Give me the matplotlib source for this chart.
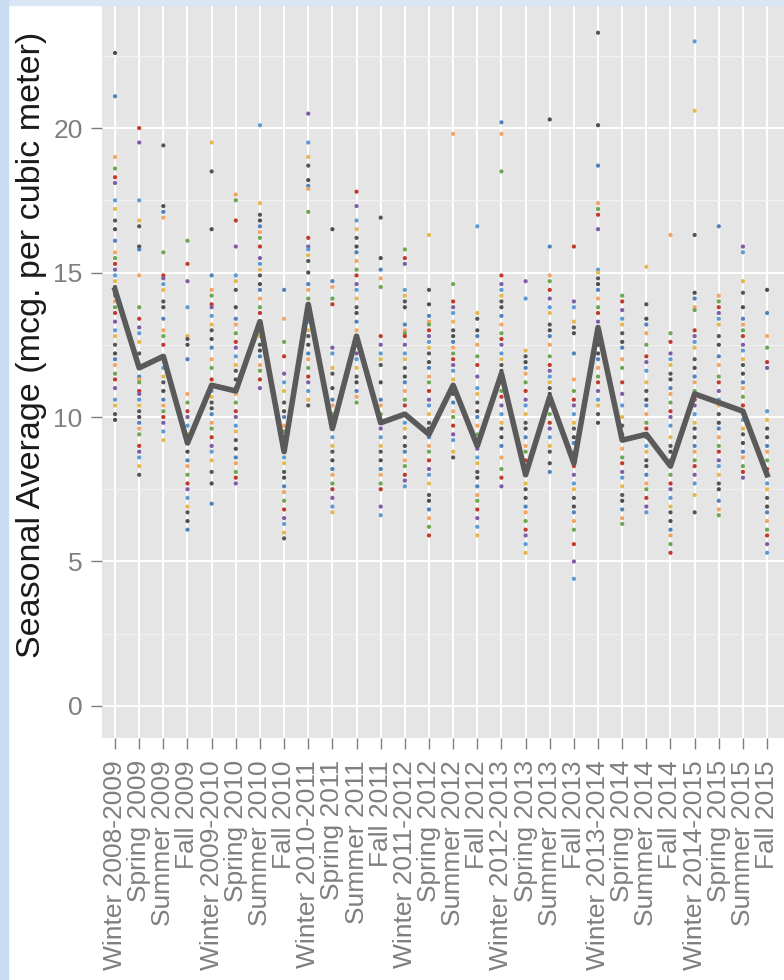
import matplotlib
matplotlib.use('Agg')
import matplotlib.pyplot as plt
from matplotlib.patches import Rectangle
import numpy as np

plt.rcParams['font.family'] = ['Liberation Sans', 'DejaVu Sans']

seasons = ['Winter 2008-2009', 'Spring 2009', 'Summer 2009', 'Fall 2009',
           'Winter 2009-2010', 'Spring 2010', 'Summer 2010', 'Fall 2010',
           'Winter 2010-2011', 'Spring 2011', 'Summer 2011', 'Fall 2011',
           'Winter 2011-2012', 'Spring 2012', 'Summer 2012', 'Fall 2012',
           'Winter 2012-2013', 'Spring 2013', 'Summer 2013', 'Fall 2013',
           'Winter 2013-2014', 'Spring 2014', 'Summer 2014', 'Fall 2014',
           'Winter 2014-2015', 'Spring 2015', 'Summer 2015', 'Fall 2015']

# overall seasonal mean (thick line)
season_means = [14.4, 11.7, 12.1, 9.1, 11.1, 10.9, 13.3, 8.8, 13.9, 9.6, 12.8, 9.8,
                10.1, 9.4, 11.1, 9.0, 11.5, 8.0, 10.7, 8.4, 13.1, 9.2, 9.4, 8.3,
                10.8, 10.5, 10.2, 8.0]

# per-site seasonal averages, one list per season
site_values = [
    [22.6, 21.1, 19.0, 18.6, 18.3, 18.1, 17.5, 17.2, 16.8, 16.5, 16.1, 15.7, 15.5, 15.3, 15.1, 14.9, 14.7, 14.5, 14.3,
     14.2, 14.0, 13.8, 13.6, 13.3, 13.0, 12.8, 12.5, 12.2, 12.0, 11.8, 11.5, 11.3, 11.0, 10.6, 10.4, 10.1, 9.9],
    [20.0, 19.5, 17.5, 16.8, 16.6, 15.9, 15.8, 14.9, 13.8, 13.4, 13.1, 12.9, 12.6, 12.2, 11.7, 11.4, 11.3, 11.2, 10.9,
     10.8, 10.6, 10.4, 10.2, 10.0, 9.8, 9.6, 9.4, 9.0, 8.8, 8.6, 8.3, 8.0],
    [19.4, 17.3, 17.1, 16.9, 15.7, 14.9, 14.8, 14.6, 14.4, 14.0, 13.8, 13.4, 13.0, 12.8, 12.5, 12.1, 11.7, 11.4, 11.2,
     10.9, 10.6, 10.4, 10.2, 10.0, 9.8, 9.5, 9.2],
    [16.1, 15.3, 14.7, 13.8, 12.8, 12.7, 12.5, 12.0, 10.8, 10.5, 10.2, 10.0, 9.7, 9.4, 9.2, 8.8, 8.5, 8.3, 8.0, 7.7,
     7.5, 7.2, 6.9, 6.7, 6.4, 6.1],
    [19.5, 18.5, 16.5, 14.9, 14.4, 14.2, 13.9, 13.8, 13.5, 13.2, 13.0, 12.7, 12.4, 12.0, 11.7, 11.3, 11.1, 10.9, 10.7,
     10.5, 10.3, 10.1, 9.8, 9.6, 9.3, 9.0, 8.8, 8.5, 8.1, 7.7, 7.0],
    [17.7, 17.5, 16.8, 15.9, 14.9, 14.7, 14.4, 13.8, 13.4, 13.2, 12.9, 12.6, 12.4, 12.1, 11.8, 11.6, 11.3, 11.0, 10.8,
     10.5, 10.2, 10.0, 9.7, 9.5, 9.2, 8.9, 8.6, 8.4, 8.1, 7.9, 7.7],
    [20.1, 17.4, 17.0, 16.8, 16.6, 16.4, 16.2, 15.9, 15.5, 15.3, 15.1, 14.9, 14.6, 14.4, 14.1, 13.8, 13.6, 13.3, 13.0,
     12.8, 12.5, 12.3, 12.1, 11.8, 11.6, 11.3, 11.0],
    [14.4, 13.4, 12.6, 12.1, 11.5, 11.2, 10.9, 10.5, 10.2, 10.0, 9.7, 9.5, 9.2, 8.9, 8.6, 8.4, 8.1, 7.9, 7.6, 7.4,
     7.1, 6.8, 6.5, 6.3, 6.0, 5.8],
    [20.5, 19.5, 19.0, 18.7, 18.2, 18.0, 17.9, 17.1, 16.2, 15.9, 15.8, 15.6, 15.4, 15.0, 14.6, 14.4, 14.1, 13.8, 13.6,
     13.3, 13.0, 12.8, 12.5, 12.2, 12.0, 11.7, 11.4, 11.2, 10.9, 10.6, 10.4],
    [16.5, 14.7, 14.5, 14.1, 13.9, 12.4, 12.2, 11.7, 11.5, 11.0, 10.6, 10.4, 10.1, 9.8, 9.6, 9.3, 9.0, 8.8, 8.5, 8.2,
     8.0, 7.7, 7.5, 7.2, 6.9, 6.7],
    [17.8, 17.3, 16.8, 16.5, 16.2, 15.9, 15.7, 15.4, 15.1, 14.9, 14.6, 14.4, 14.1, 13.8, 13.6, 13.3, 13.0, 12.8, 12.5,
     12.2, 12.0, 11.7, 11.4, 11.2, 10.9, 10.7, 10.5],
    [16.9, 15.5, 15.1, 14.8, 14.5, 12.8, 12.5, 12.2, 12.0, 11.8, 11.2, 10.6, 10.4, 10.1, 9.8, 9.6, 9.3, 9.0, 8.8, 8.5,
     8.2, 8.0, 7.7, 7.5, 6.9, 6.6],
    [15.8, 15.5, 15.3, 14.4, 14.2, 14.0, 13.8, 13.2, 13.0, 12.9, 12.8, 12.5, 12.2, 12.0, 11.7, 11.4, 11.2, 10.9, 10.6,
     10.4, 10.1, 9.8, 9.6, 9.3, 9.0, 8.8, 8.5, 8.3, 8.0, 7.8, 7.6],
    [16.3, 14.4, 13.9, 13.5, 13.3, 13.2, 13.0, 12.8, 12.6, 12.4, 12.2, 11.9, 11.7, 11.4, 11.2, 10.9, 10.6, 10.4, 10.1,
     9.8, 9.6, 9.3, 9.0, 8.8, 8.5, 8.2, 8.0, 7.7, 7.3, 7.1, 6.8, 6.5, 6.2, 5.9],
    [19.8, 14.6, 14.0, 13.8, 13.6, 13.3, 13.0, 12.8, 12.6, 12.4, 12.2, 12.0, 11.8, 11.6, 11.3, 11.0, 10.8, 10.5, 10.2,
     10.0, 9.7, 9.4, 9.2, 8.8, 8.6],
    [16.6, 13.6, 13.4, 13.0, 12.8, 12.5, 12.1, 11.8, 11.4, 11.0, 10.8, 10.5, 10.2, 10.0, 9.7, 9.4, 9.2, 8.9, 8.6, 8.4,
     8.1, 7.9, 7.6, 7.3, 7.1, 6.8, 6.5, 6.2, 5.9],
    [20.2, 19.8, 18.5, 14.9, 14.6, 14.4, 14.2, 14.0, 13.8, 13.5, 13.2, 12.9, 12.7, 12.5, 12.2, 12.0, 11.8, 11.6, 11.4,
     11.2, 10.9, 10.7, 10.4, 10.1, 9.8, 9.6, 9.3, 9.0, 8.6, 8.2, 7.9, 7.6],
    [14.7, 14.1, 12.3, 12.1, 11.9, 11.7, 11.5, 11.2, 10.9, 10.6, 10.4, 10.1, 9.8, 9.6, 9.3, 9.0, 8.8, 8.5, 8.2, 8.0,
     7.7, 7.5, 7.2, 6.9, 6.7, 6.4, 6.1, 5.9, 5.6, 5.3],
    [20.3, 15.9, 14.9, 14.7, 14.4, 14.1, 13.8, 13.6, 13.2, 13.0, 12.8, 12.5, 12.1, 11.8, 11.6, 11.4, 11.2, 11.0, 10.8,
     10.6, 10.4, 10.1, 9.8, 9.6, 9.3, 9.0, 8.8, 8.4, 8.1],
    [15.9, 14.0, 13.8, 13.3, 13.1, 12.9, 12.2, 11.3, 10.9, 10.6, 10.4, 10.1, 9.8, 9.6, 9.3, 9.1, 8.8, 8.5, 8.3, 8.0,
     7.7, 7.5, 7.2, 6.9, 6.7, 6.4, 6.1, 5.6, 5.0, 4.4],
    [23.3, 20.1, 18.7, 17.4, 17.2, 17.0, 16.5, 15.1, 15.0, 14.8, 14.6, 14.4, 14.1, 13.8, 13.6, 13.3, 13.0, 12.8, 12.5,
     12.2, 12.0, 11.7, 11.4, 11.2, 10.9, 10.6, 10.4, 10.1, 9.8],
    [14.2, 14.0, 13.7, 13.4, 13.2, 12.9, 12.6, 12.4, 12.0, 11.7, 11.2, 10.8, 10.4, 10.0, 9.7, 9.4, 9.2, 8.9, 8.6, 8.4,
     8.1, 7.9, 7.6, 7.3, 7.1, 6.8, 6.5, 6.3],
    [15.2, 13.9, 13.4, 13.2, 12.9, 12.5, 12.1, 11.9, 11.6, 11.2, 10.9, 10.6, 10.4, 10.1, 9.8, 9.6, 9.3, 9.0, 8.8, 8.5,
     8.3, 8.0, 7.7, 7.5, 7.2, 6.9, 6.7],
    [16.3, 12.9, 12.6, 12.2, 12.0, 11.8, 11.5, 11.3, 11.0, 10.8, 10.5, 10.2, 10.0, 9.7, 9.3, 9.0, 8.8, 8.5, 8.3, 8.0,
     7.7, 7.5, 7.2, 6.9, 6.7, 6.4, 6.1, 5.9, 5.6, 5.3],
    [23.0, 20.6, 16.3, 14.3, 14.1, 13.8, 13.7, 13.0, 12.8, 12.6, 12.4, 12.0, 11.7, 11.4, 11.2, 10.9, 10.6, 10.4, 10.1,
     9.8, 9.6, 9.3, 9.0, 8.8, 8.5, 8.3, 8.0, 7.7, 7.3, 6.7],
    [16.6, 14.2, 14.0, 13.8, 13.6, 13.4, 13.2, 12.8, 12.5, 12.1, 11.8, 11.4, 11.2, 10.9, 10.6, 10.4, 10.1, 9.8, 9.6,
     9.3, 9.0, 8.8, 8.5, 8.3, 8.0, 7.7, 7.5, 7.1, 6.8, 6.6],
    [15.9, 15.7, 14.7, 14.3, 13.8, 13.4, 13.2, 13.0, 12.8, 12.5, 12.3, 12.0, 11.8, 11.5, 11.2, 11.0, 10.7, 10.4, 10.2,
     9.9, 9.6, 9.4, 9.1, 8.8, 8.6, 8.3, 8.1, 7.9],
    [14.4, 13.6, 12.8, 12.4, 11.9, 11.7, 10.2, 9.9, 9.6, 9.3, 9.0, 8.8, 8.5, 8.2, 8.0, 7.7, 7.5, 7.2, 6.9, 6.7, 6.4,
     6.1, 5.9, 5.6, 5.3],
]

site_colors = ['#4d4d4d', '#4f81bd', '#f4a460', '#6aa84f', '#c0392b', '#7d5ba6',
               '#5b9bd5', '#e6b84a', '#555555']

fig = plt.figure(figsize=(7.84, 9.8), dpi=100)
fig.patch.set_facecolor('white')
# light blue page frame
fig.patches.append(Rectangle((0, 1 - 5 / 980), 1, 5 / 980, transform=fig.transFigure,
                             color='#d8e6f5', zorder=0))
fig.patches.append(Rectangle((0, 0), 8 / 784, 1, transform=fig.transFigure,
                             color='#c9dcf1', zorder=0))

ax = fig.add_axes([102 / 784, 1 - 738 / 980, 682 / 784, 733 / 980])
ax.set_facecolor('#e5e5e5')

x = np.arange(len(seasons))
for i, vals in enumerate(site_values):
    cols = [site_colors[(i * 4 + k) % len(site_colors)] for k in range(len(vals))]
    ax.scatter(np.full(len(vals), x[i]), vals, s=9, c=cols, linewidths=0, zorder=3)

ax.plot(x, season_means, color='#5a5a5a', lw=4, zorder=4)

ax.set_xlim(-0.54, 27.7)
ax.set_ylim(-1.11, 24.26)
ax.set_yticks([0, 5, 10, 15, 20])
ax.set_yticks([2.5, 7.5, 12.5, 17.5, 22.5], minor=True)
ax.set_xticks(x)
ax.set_xticklabels(seasons, rotation=90)

ax.grid(which='major', color='white', lw=1.4, zorder=1)
ax.grid(which='minor', axis='y', color='#f2f2f2', lw=0.7, zorder=1)
ax.set_axisbelow(True)
for s in ax.spines.values():
    s.set_visible(False)

ax.tick_params(axis='both', which='major', length=8, width=1, color='#7f7f7f',
               labelcolor='#7f7f7f', labelsize=19)
ax.tick_params(axis='y', pad=6)
ax.tick_params(axis='x', pad=8)
ax.tick_params(which='minor', length=0)

ax.set_ylabel('Seasonal Average (mcg. per cubic meter)', fontsize=24.5, color='#1a1a1a',
              va='center')
ax.yaxis.set_label_coords(-0.103, 0.536)

fig.savefig('out.png', dpi=100, facecolor=fig.get_facecolor())
